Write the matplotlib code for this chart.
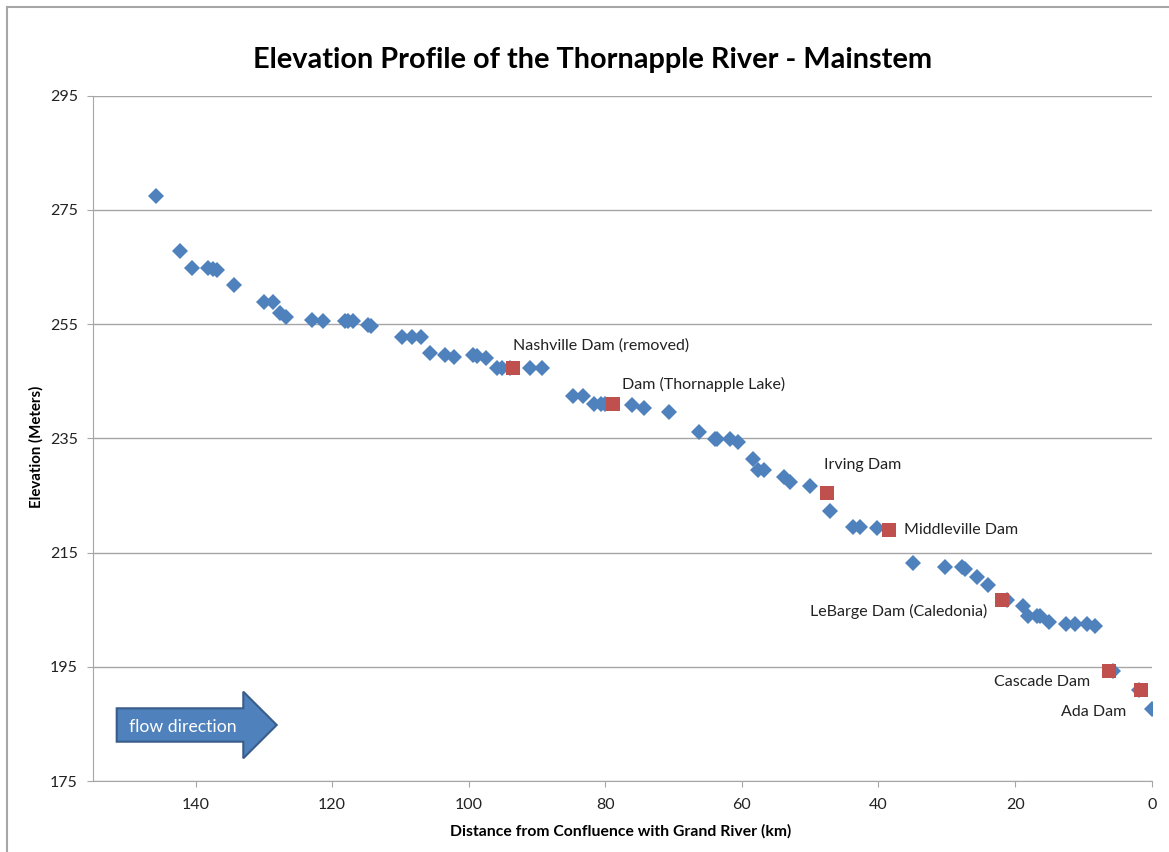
import matplotlib
matplotlib.use('Agg')
import matplotlib.pyplot as plt
from matplotlib.lines import Line2D
from matplotlib.patches import FancyArrow

plt.rcParams['font.family'] = ['Lato', 'DejaVu Sans']

# river survey points (distance upstream of the Grand River, elevation)
dist_km = [145.8, 142.3, 140.5, 138.1, 137.5, 136.9, 134.4, 130.0, 128.7,
           127.7, 126.7, 123.0, 121.4, 118.1, 117.6, 117.0, 114.8, 114.3,
           109.8, 108.3, 107.0, 105.6, 103.4, 102.2, 99.3, 98.8, 97.4,
           95.8, 95.1, 94.0, 91.0, 89.2, 84.7, 83.2, 81.7, 80.7, 80.1,
           76.1, 74.4, 70.7, 66.3, 64.0, 63.6, 61.7, 60.5, 58.4, 57.6,
           56.8, 53.8, 52.9, 50.1, 47.1, 43.7, 42.7, 40.2, 35.0, 30.2,
           27.8, 27.3, 25.6, 23.9, 21.2, 18.9, 18.1, 16.8, 16.4, 15.0,
           12.6, 11.2, 9.5, 8.3, 5.6, 1.8, 0.0]
elev_m = [277.4, 267.8, 264.8, 264.8, 264.7, 264.5, 261.8, 258.8, 258.8,
          256.9, 256.3, 255.7, 255.6, 255.6, 255.6, 255.6, 254.9, 254.7,
          252.8, 252.8, 252.8, 250.0, 249.6, 249.3, 249.6, 249.4, 249.0,
          247.4, 247.4, 247.4, 247.4, 247.4, 242.4, 242.4, 241.1, 241.1,
          241.1, 240.8, 240.4, 239.7, 236.2, 234.9, 234.9, 234.9, 234.3,
          231.4, 229.5, 229.5, 228.2, 227.4, 226.7, 222.3, 219.4, 219.4,
          219.3, 213.2, 212.5, 212.5, 212.1, 210.8, 209.4, 206.7, 205.6,
          203.9, 203.9, 203.9, 202.9, 202.5, 202.5, 202.5, 202.2, 194.3,
          190.9, 187.6]

# dams
dam_names = ['Nashville Dam (removed)', 'Dam (Thornapple Lake)', 'Irving Dam',
             'Middleville Dam', 'LeBarge Dam (Caledonia)', 'Cascade Dam', 'Ada Dam']
dam_km = [93.5, 78.8, 47.5, 38.5, 21.9, 6.2, 1.5]
dam_elev = [247.4, 241.1, 225.5, 219.0, 206.7, 194.3, 190.9]
# label offsets in points and alignment
dam_offsets = [(0, 16), (6, 14), (-2, 20), (11, 0), (-11, -8), (-14, -8), (-11, -16)]
dam_ha = ['left', 'left', 'left', 'left', 'right', 'right', 'right']

x_ticks = [140, 120, 100, 80, 60, 40, 20, 0]
y_ticks = [175, 195, 215, 235, 255, 275, 295]

blue = '#4F81BD'
red = '#C0504D'
grid_col = '#A6A6A6'

fig = plt.figure(figsize=(11.69, 8.52), dpi=100)
ax = fig.add_axes([0.0796, 0.0833, 0.9056, 0.8044])

ax.plot(dist_km, elev_m, linestyle='none', marker='D', markersize=7.8,
        color=blue, markeredgewidth=0, zorder=3)
ax.plot(dam_km, dam_elev, linestyle='none', marker='s', markersize=9.8,
        color=red, markeredgewidth=0, zorder=4)

for name, xk, ye, off, ha in zip(dam_names, dam_km, dam_elev, dam_offsets, dam_ha):
    ax.annotate(name, (xk, ye), xytext=off, textcoords='offset points',
                ha=ha, va='center', fontsize=11.5, color='#222222')

ax.set_xlim(155, 0)
ax.set_ylim(175, 295)
ax.set_xticks(x_ticks)
ax.set_yticks(y_ticks)
ax.yaxis.grid(True, color=grid_col, linewidth=1)
ax.set_axisbelow(True)
for s in ['top', 'right']:
    ax.spines[s].set_visible(False)
for s in ['left', 'bottom']:
    ax.spines[s].set_color(grid_col)
ax.tick_params(axis='x', length=4, color=grid_col, labelsize=11.5, pad=8, labelcolor='#222222')
ax.tick_params(axis='y', length=4, color=grid_col, labelsize=11.5, pad=7, labelcolor='#222222')

fig.text(0.507, 0.9296, 'Elevation Profile of the Thornapple River - Mainstem',
         ha='center', va='center', fontsize=20.8, fontweight='bold')
fig.text(0.531, 0.0238, 'Distance from Confluence with Grand River (km)',
         ha='center', va='center', fontsize=11.3, fontweight='bold')
fig.text(0.0314, 0.4757, 'Elevation (Meters)', ha='center', va='center',
         rotation=90, fontsize=10.8, fontweight='bold')

# flow direction arrow (figure pixel space)
W, H = 1169, 852
arrow = FancyArrow(116.7 / W, 1 - 725 / H, (276.7 - 116.7) / W, 0,
                   width=33.4 / H, head_width=66.6 / H,
                   head_length=33.4 / W, length_includes_head=True,
                   transform=fig.transFigure, facecolor=blue,
                   edgecolor='#385D8A', linewidth=1.5)
fig.add_artist(arrow)
fig.text(183 / W, 1 - 727 / H, 'flow direction', ha='center', va='center',
         fontsize=12.7, color='white')

# chart frame
fig.add_artist(Line2D([7 / W, 7 / W], [0, 1 - 7 / H], color=grid_col, linewidth=1.5,
                      transform=fig.transFigure))
fig.add_artist(Line2D([7 / W, 1], [1 - 7 / H, 1 - 7 / H], color=grid_col, linewidth=1.5,
                      transform=fig.transFigure))

fig.savefig('out.png', dpi=100)
